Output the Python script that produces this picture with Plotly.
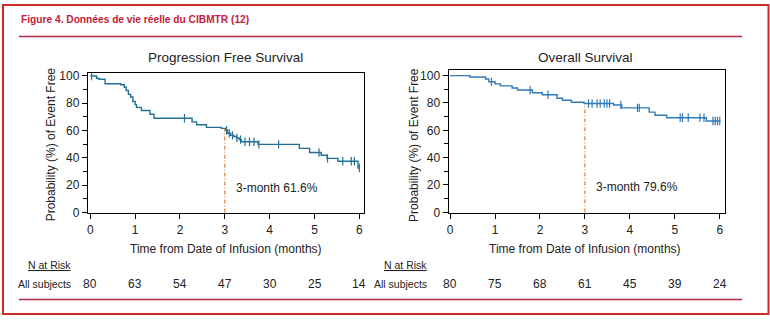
import numpy as np
import plotly.graph_objects as go

W, H = 770, 322

# ---------------- data ----------------
x_ticks = [0, 1, 2, 3, 4, 5, 6]
y_ticks = [0, 20, 40, 60, 80, 100]

pfs_time = [0, 0.14, 0.19, 0.33, 0.68, 0.76, 0.8, 0.85, 0.9, 0.95, 1.0, 1.03, 1.14, 1.33, 1.42,
            2.27, 2.37, 2.59, 2.92, 3.02, 3.06, 3.13, 3.2, 3.26, 3.32, 3.37, 3.74, 4.66, 4.89,
            5.15, 5.28, 5.52, 5.97]
pfs_surv = [100, 98.3, 97.6, 94.3, 93.6, 91.7, 89.4, 86.5, 84.6, 81.3, 79, 77, 74.7, 72, 69,
            66.4, 64.3, 62.4, 61.6, 60.3, 58.1, 56.5, 55.7, 54.6, 53.4, 51.8, 49.9, 47, 44,
            42, 39.7, 37.6, 32.6]
pfs_end = 6.0
pfs_censor = [0.03, 2.1, 3.04, 3.1, 3.17, 3.27, 3.35, 3.45, 3.55, 3.65, 3.76, 4.2, 5.1, 5.29,
              5.63, 5.82, 5.89, 6.0]
pfs_3m = 61.6
pfs_risk = [80, 63, 54, 47, 30, 25, 14]

os_time = [0, 0.44, 0.79, 0.86, 1.0, 1.12, 1.38, 1.5, 1.83, 2.05, 2.38, 2.5, 2.7, 2.98, 3.64,
           3.82, 4.43, 4.56, 4.82, 5.7]
os_surv = [100, 99, 97.5, 95.5, 94, 92.5, 91, 89.5, 87.5, 86, 83.5, 82, 80.5, 79.6, 78.5,
           76.4, 73.3, 71, 69.2, 66.8]
os_end = 6.02
os_censor = [0.92, 1.78, 2.18, 3.08, 3.16, 3.27, 3.34, 3.43, 3.49, 3.55, 3.8, 4.17, 4.21, 5.12,
             5.17, 5.3, 5.56, 5.65, 5.85, 5.9, 5.95, 6.0]
os_3m = 79.6
os_risk = [80, 75, 68, 61, 45, 39, 24]

fig_title = "Figure 4. Données de vie réelle du CIBMTR (12)"
panel_titles = ["Progression Free Survival", "Overall Survival"]
x_title = "Time from Date of Infusion (months)"
y_title = "Probability (%) of Event Free"

# ---------------- helpers ----------------
def px(x):
    return x / W

def py(y):
    return 1 - y / H

def step_value(times, surv, t):
    idx = np.searchsorted(np.array(times), t, side="right") - 1
    return np.array(surv)[idx]

FONT = "Liberation Sans, Arial, sans-serif"
TXT = "#222222"
RED_TITLE = "#c4203c"
RED_LINE = "#b32a48"
RED_BORDER = "#d02a2a"
ORANGE = "#d2691e"

fig = go.Figure()

panels = [
    dict(time=pfs_time, surv=pfs_surv, end=pfs_end, cens=pfs_censor, m3=pfs_3m,
         risk=pfs_risk, color="#236f98", xa="x", ya="y"),
    dict(time=os_time, surv=os_surv, end=os_end, cens=os_censor, m3=os_3m,
         risk=os_risk, color="#2f7ab8", xa="x2", ya="y2"),
]

for p in panels:
    xs = list(p["time"]) + [p["end"]]
    ys = list(p["surv"]) + [p["surv"][-1]]
    fig.add_trace(go.Scatter(x=xs, y=ys, mode="lines", line=dict(color=p["color"], width=1.4, shape="hv"),
                             xaxis=p["xa"], yaxis=p["ya"], showlegend=False, hoverinfo="skip"))
    cy = [step_value(p["time"], p["surv"], t) for t in p["cens"]]
    fig.add_trace(go.Scatter(x=p["cens"], y=cy, mode="markers",
                             marker=dict(symbol="line-ns", size=6, line=dict(color=p["color"], width=1.2)),
                             xaxis=p["xa"], yaxis=p["ya"], showlegend=False, hoverinfo="skip"))
    fig.add_trace(go.Scatter(x=[3, 3], y=[0, p["m3"]], mode="lines",
                             line=dict(color=ORANGE, width=1, dash="4px,2px,1px,2px"),
                             xaxis=p["xa"], yaxis=p["ya"], showlegend=False, hoverinfo="skip"))

ax_common = dict(showline=True, mirror=True, linecolor="#000", linewidth=1, showgrid=False,
                 zeroline=False, ticks="outside", ticklen=5, tickwidth=1, tickcolor="#000",
                 tickfont=dict(family=FONT, size=12, color=TXT), fixedrange=True)

fig.update_layout(
    width=W, height=H, margin=dict(l=0, r=0, t=0, b=0),
    paper_bgcolor="white", plot_bgcolor="white",
    xaxis=dict(domain=[px(86), px(362.7)], range=[-0.056, 6.098], tickvals=x_ticks, anchor="y", **ax_common),
    yaxis=dict(domain=[py(216), py(71)], range=[-0.5, 102.3], tickvals=y_ticks, anchor="x",
               minor=dict(ticks="outside", ticklen=4, tickvals=[10, 30, 50, 70, 90], tickcolor="#000"),
               **ax_common),
    xaxis2=dict(domain=[px(447.7), px(725)], range=[-0.035, 6.12], tickvals=x_ticks, anchor="y2", **ax_common),
    yaxis2=dict(domain=[py(216), py(68.3)], range=[-0.7, 104.0], tickvals=y_ticks, anchor="x2",
                minor=dict(ticks="outside", ticklen=4, tickvals=[10, 30, 50, 70, 90], tickcolor="#000"),
                **ax_common),
)

ann = []
ann.append(dict(text="<b>" + fig_title + "</b>", x=px(17), y=py(16), xref="paper", yref="paper",
                xanchor="left", yanchor="middle", showarrow=False,
                font=dict(family=FONT, size=10.2, color=RED_TITLE)))

panel_geo = [
    dict(title_x=224.5, yt_x=50, xt_x=224.4, risk_right=71, xa="x", ya="y"),
    dict(title_x=585, yt_x=413.5, xt_x=584.7, risk_right=427.7, xa="x2", ya="y2"),
]
for i, (p, g) in enumerate(zip(panels, panel_geo)):
    ann.append(dict(text=panel_titles[i], x=px(g["title_x"]), y=py(55.5), xref="paper", yref="paper",
                    xanchor="center", yanchor="middle", showarrow=False,
                    font=dict(family=FONT, size=13.5, color=TXT)))
    ann.append(dict(text=y_title, x=px(g["yt_x"]), y=py(145), xref="paper", yref="paper",
                    xanchor="center", yanchor="middle", textangle=-90, showarrow=False,
                    font=dict(family=FONT, size=12, color=TXT)))
    ann.append(dict(text=x_title, x=px(g["xt_x"]), y=py(253), xref="paper", yref="paper",
                    xanchor="center", yanchor="middle", showarrow=False,
                    font=dict(family=FONT, size=12, color=TXT)))
    ann.append(dict(text=f"3-month {p['m3']}%", x=3.2, y=18.3, xref=g["xa"], yref=g["ya"],
                    xanchor="left", yanchor="middle", showarrow=False,
                    font=dict(family=FONT, size=12, color=TXT)))
    ann.append(dict(text="<u>N at Risk</u>", x=px(g["risk_right"]), y=py(269.5), xref="paper", yref="paper",
                    xanchor="right", yanchor="middle", showarrow=False,
                    font=dict(family=FONT, size=10.5, color=TXT)))
    ann.append(dict(text="All subjects", x=px(g["risk_right"]), y=py(289), xref="paper", yref="paper",
                    xanchor="right", yanchor="middle", showarrow=False,
                    font=dict(family=FONT, size=10.5, color=TXT)))
    for t, n in zip(x_ticks, p["risk"]):
        ann.append(dict(text=str(n), x=t, y=py(289), xref=g["xa"], yref="paper",
                        xanchor="center", yanchor="middle", showarrow=False,
                        font=dict(family=FONT, size=12, color=TXT)))

fig.update_layout(annotations=ann)

shapes = [
    dict(type="rect", xref="paper", yref="paper", x0=px(1), y0=py(320), x1=px(768.5), y1=py(1),
         line=dict(color=RED_BORDER, width=2)),
    dict(type="line", xref="paper", yref="paper", x0=px(17), x1=px(742), y0=py(33.5), y1=py(33.5),
         line=dict(color=RED_LINE, width=1.5)),
    dict(type="line", xref="paper", yref="paper", x0=px(17), x1=px(742), y0=py(305), y1=py(305),
         line=dict(color=RED_LINE, width=1.5)),
]
fig.update_layout(shapes=shapes)

fig.write_html("out.html")
